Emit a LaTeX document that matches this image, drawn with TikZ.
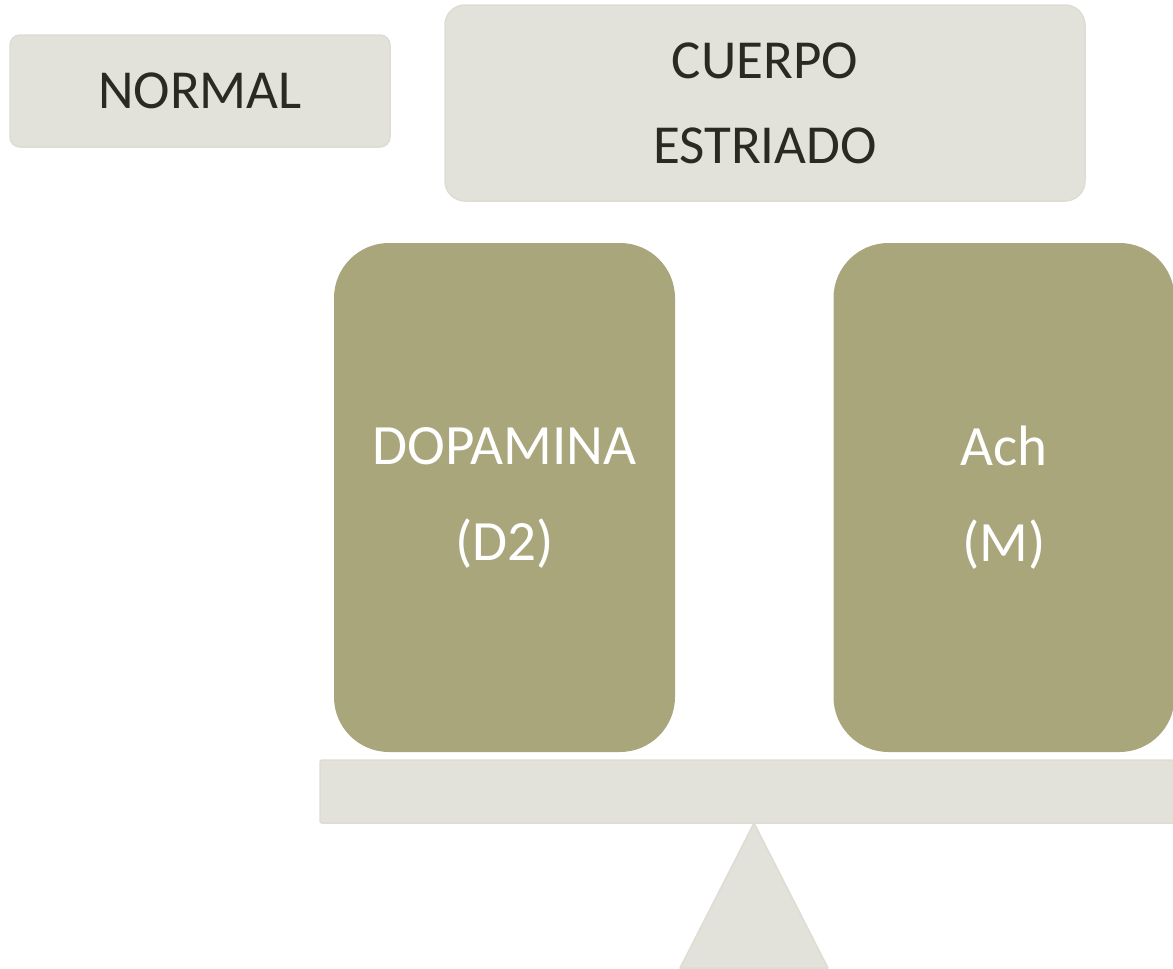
\documentclass[tikz,border=0pt]{standalone}
\usepackage{fontspec}
\setmainfont{Carlito}
\usepackage{xcolor}
\usetikzlibrary{positioning}
\definecolor{paleboxfill}{HTML}{E2E2DA}
\definecolor{paleboxline}{HTML}{DDDDD4}
\definecolor{olivefill}{HTML}{A9A67C}
\definecolor{darktext}{HTML}{2B2A20}

\begin{document}
\begin{tikzpicture}[x=1pt,y=-1pt,
    palebox/.style={draw=paleboxline, line width=1.5pt, fill=paleboxfill,
        rectangle, inner sep=0pt, text=darktext, align=center,
        font=\fontsize{55}{85}\selectfont},
    olivebox/.style={fill=olivefill, rectangle, rounded corners=55pt,
        inner sep=0pt, text=white, align=center,
        minimum width=341pt, minimum height=509pt,
        font=\fontsize{57}{96}\selectfont}]
    \useasboundingbox (0,0) rectangle (1173,969);
    \clip (0,0) rectangle (1173,969);

    % title boxes
    \node[palebox, rounded corners=10pt, minimum width=380pt, minimum height=112pt]
        (normal) at (200,91) {NORMAL};
    \node[palebox, rounded corners=20pt, minimum width=640pt, minimum height=196pt]
        (cuerpo) at (765,103) {CUERPO\\ESTRIADO};

    % weights on the balance
    \node[olivebox] (dopamina) at (504.5,497.5) {\raisebox{-4pt}{DOPAMINA}\\\raisebox{-4pt}{(D2)}};
    \node[olivebox] (ach) at (1004,497.5) {\raisebox{-4pt}{Ach}\\\raisebox{-4pt}{(M)}};

    % beam and pivot
    \filldraw[draw=paleboxline, line width=1.5pt, fill=paleboxfill, rounded corners=2pt]
        (320,760) rectangle (1185,823);
    \filldraw[draw=paleboxline, line width=1.5pt, fill=paleboxfill, line join=round]
        (754,823) -- (828,968) -- (680,968) -- cycle;
\end{tikzpicture}
\end{document}
